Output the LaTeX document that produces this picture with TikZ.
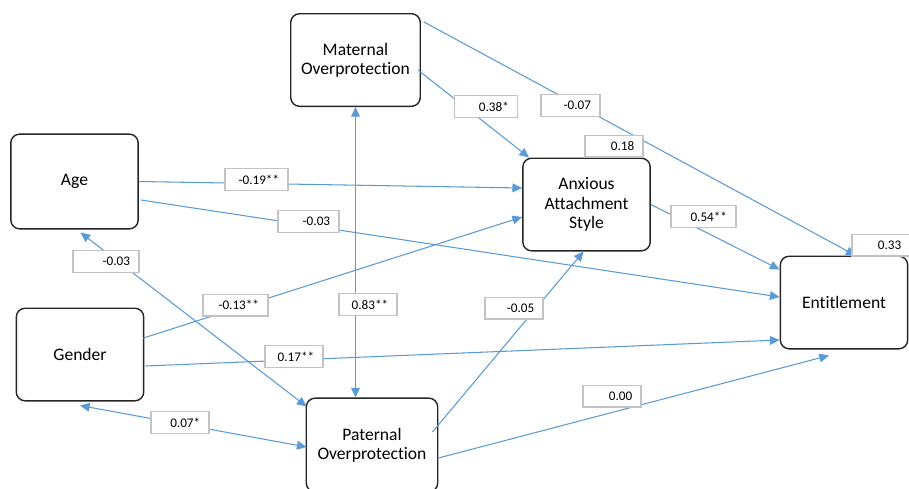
\documentclass[tikz,border=0pt]{standalone}
\usepackage{fontspec}
\setmainfont{Carlito}[Ligatures=NoCommon]
\usetikzlibrary{arrows.meta,calc}
\definecolor{pathblue}{RGB}{91,155,213}
\definecolor{coefgray}{RGB}{195,195,195}
\begin{document}
    \begin{tikzpicture}[x=0.02cm,y=-0.02cm,
        var/.style={draw=black!85,line width=.8pt,rounded corners=5pt,fill=white,align=center,
            minimum width=72.5pt,minimum height=52.7pt,font=\fontsize{10}{11}\selectfont},
        coef/.style={draw=coefgray,line width=.8pt,fill=white,align=right,text width=#1,
            inner xsep=5pt,inner ysep=0pt,minimum height=12.3pt,font=\fontsize{7.5}{8}\selectfont},
        coef/.default=23pt,
        effect/.style={pathblue,line width=.6pt,-{Triangle[length=5.5pt,width=5pt]}},
        cov/.style={effect,{Triangle[length=5.5pt,width=5pt]}-{Triangle[length=5.5pt,width=5pt]}}]
        \useasboundingbox[fill=white] (0,0) rectangle (909,488);
        \node[var,minimum width=73.7pt] (mat) at (355.5,60) {Maternal\\Overprotection};
        \node[var,minimum height=53.9pt] (age) at (74.5,181.5) {Age};
        \node[var] (gen) at (80,354.5) {Gender};
        \node[var] (anx) at (586.5,204.5) {Anxious\\Attachment\\Style};
        \node[var] (ent) at (844,302.5) {Entitlement};
        \node[var,minimum width=74.8pt,minimum height=53.3pt] (pat) at (372,445) {Paternal\\Overprotection};
        \draw[effect] ($(mat.east)+(-3,10)$) -- ($(anx.north west)+(7,0)$);
        \draw[effect] ($(mat.north east)+(3,9)$) -- ($(ent.north west)+(76,0)$);
        \draw[cov] (mat.south) -- (mat.south |- pat.north);
        \draw[effect] (age.east) -- ($(anx.west)+(0,-16.5)$);
        \draw[effect] ($(age.east)+(2,18.5)$) -- ($(ent.west)+(0,-5.5)$);
        \draw[cov] ($(age.south)+(6,3)$) -- ($(pat.north west)+(1,9)$);
        \draw[effect] ($(gen.east)+(-1,-16.5)$) -- ($(anx.west)+(0,12.5)$);
        \draw[effect] ($(gen.east)+(1,11.5)$) -- ($(ent.west)+(0,37.5)$);
        \draw[cov] ($(gen.south)+(0,4)$) -- ($(pat.west)+(1,2)$);
        \draw[effect] ($(pat.east)+(-6,-13)$) -- ($(anx.south)+(-3,0)$);
        \draw[effect] ($(pat.east)+(0,13)$) -- ($(ent.south)+(-15,6)$);
        \draw[effect] (anx.east) -- ($(ent.north west)+(0,14)$);
        \node[coef=26pt] (matanx) at (486,106.5) {0.38*};
        \node[coef=23.4pt] (matent) at (570.5,105.5) {-0.07};
        \node[coef] (anxr) at (614,146) {0.18};
        \node[coef] (entr) at (881,245) {0.33};
        \node[coef=26.8pt] (anxent) at (703.5,216.5) {0.54**};
        \node[coef=25.7pt] (ageanx) at (256.5,179.5) {-0.19**};
        \node[coef=24.6pt] (ageent) at (308.5,221.5) {-0.03};
        \node[coef=27.4pt] (agepat) at (106,261.5) {-0.03};
        \node[coef=26.8pt] (genanx) at (235.5,305) {-0.13**};
        \node[coef] (matpat) at (368,304.5) {0.83**};
        \node[coef] (genent) at (294,356.5) {0.17**};
        \node[coef] (genpat) at (180,422.5) {0.07*};
        \node[coef] (patanx) at (514,308) {-0.05};
        \node[coef] (patent) at (612,396) {0.00};
    \end{tikzpicture}
\end{document}
